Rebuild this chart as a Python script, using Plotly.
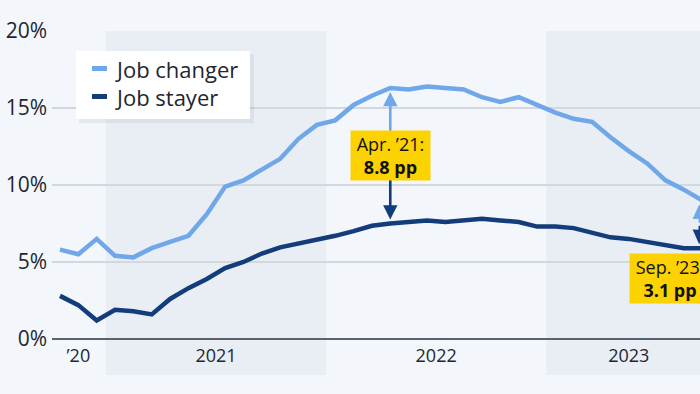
import pandas as pd
import plotly.graph_objects as go

# ---------------- data ----------------
months = [d.strftime("%b %Y") for d in pd.date_range("2020-10-01", "2023-09-01", freq="MS")]
job_changer = [5.8, 5.5, 6.5, 5.4, 5.3, 5.9, 6.3, 6.7, 8.1, 9.9,
               10.3, 11.0, 11.7, 13.0, 13.9, 14.2, 15.2, 15.8, 16.3, 16.2,
               16.4, 16.3, 16.2, 15.7, 15.4, 15.7, 15.2, 14.7, 14.3, 14.1,
               13.1, 12.2, 11.4, 10.3, 9.7, 9.0]
job_stayer = [2.8, 2.2, 1.2, 1.9, 1.8, 1.6, 2.6, 3.3, 3.9, 4.6,
              5.0, 5.55, 5.95, 6.2, 6.4, 6.7, 7.0, 7.35, 7.5, 7.6,
              7.7, 7.6, 7.7, 7.8, 7.7, 7.6, 7.3, 7.3, 7.2, 6.9,
              6.6, 6.5, 6.3, 6.1, 5.9, 5.9]
year_labels = ["\u201920", "2021", "2022", "2023"]
year_keys = ["2020", "2021", "2022", "2023"]
y_ticks = [0, 5, 10, 15, 20]
callouts = [("Apr 2022", "Apr. \u201921:", "8.8 pp"), ("Sep 2023", "Sep. \u201923:", "3.1 pp")]

# ---------------- style ----------------
C_CHANGER = "#6fa7e9"
C_STAYER = "#133c7b"
BG = "#f3f6fa"
BAND = "#e9eef5"
YELLOW = "#fcd200"
TXT = "#1f2630"
FONT = "Open Sans"
NB = "\u00a0"

x = list(range(len(months)))
X0, X1 = -0.436, 34.88  # visible window (chart is cropped on the right)

fig = go.Figure()
fig.add_trace(go.Scatter(x=x, y=job_changer, mode="lines", name="Job changer",
                         line=dict(color=C_CHANGER, width=4.5), showlegend=False, hoverinfo="skip"))
fig.add_trace(go.Scatter(x=x, y=job_stayer, mode="lines", name="Job stayer",
                         line=dict(color=C_STAYER, width=4.5), showlegend=False, hoverinfo="skip"))

# year spans
spans = {}
for i, m in enumerate(months):
    yr = m[-4:]
    spans.setdefault(yr, [i, i])
    spans[yr][1] = i
tickvals = [(spans[k][0] + spans[k][1]) / 2 for k in year_keys]

shapes = []
for k_i, k in enumerate(year_keys):
    if k_i % 2 == 1:
        shapes.append(dict(type="rect", xref="x", yref="paper",
                           x0=spans[k][0] - 0.5, x1=spans[k][1] + 0.5,
                           y0=-0.117, y1=1, fillcolor=BAND, line_width=0, layer="below"))

# legend (custom)
W, H = 648, 308
def px(xp):
    return (xp - 52) / W
def py(yp):
    return (339 - yp) / H
shapes.append(dict(type="rect", xref="paper", yref="paper", x0=px(79), x1=px(254),
                   y0=py(123), y1=py(54), fillcolor="rgba(40,60,90,0.07)", line_width=0))
shapes.append(dict(type="rect", xref="paper", yref="paper", x0=px(76), x1=px(250),
                   y0=py(119), y1=py(51), fillcolor="white", line_width=0))
shapes.append(dict(type="rect", xref="paper", yref="paper", x0=px(92), x1=px(107),
                   y0=py(71), y1=py(66), fillcolor=C_CHANGER, line_width=0))
shapes.append(dict(type="rect", xref="paper", yref="paper", x0=px(92), x1=px(107),
                   y0=py(99), y1=py(94), fillcolor=C_STAYER, line_width=0))

annotations = [
    dict(xref="paper", yref="paper", x=px(113), y=py(68.5), xanchor="left", yanchor="middle",
         text="Job changer", showarrow=False, font=dict(size=22, color=TXT, family=FONT)),
    dict(xref="paper", yref="paper", x=px(113), y=py(96.5), xanchor="left", yanchor="middle",
         text="Job stayer", showarrow=False, font=dict(size=22, color=TXT, family=FONT)),
]

def xpaper(v):
    return (v - X0) / (X1 - X0)

for ci, (mon, l1, l2) in enumerate(callouts):
    i = months.index(mon)
    top, bot = job_changer[i], job_stayer[i]
    mid = (top + bot) / 2
    xp = xpaper(i)
    for tip, col in ((top, C_CHANGER), (bot, C_STAYER)):
        annotations.append(dict(xref="paper", yref="y", x=xp, y=tip, axref="pixel", ayref="y",
                                ax=0, ay=mid, text="", showarrow=True, arrowhead=2,
                                arrowsize=1.1, arrowwidth=2.6, arrowcolor=col, standoff=4))
    label = f"{NB}{l1}{NB}<br><b>{l2}</b>"
    if ci == 0:
        annotations.append(dict(xref="paper", yref="y", x=xp, y=mid, xanchor="center", yanchor="middle",
                                text=label, showarrow=False, bgcolor=YELLOW,
                                borderpad=1, font=dict(size=18, color="#111", family=FONT)))
    else:
        annotations.append(dict(xref="paper", yref="y", x=xpaper(spans[mon[-4:]][1] + 0.5), y=bot - 2.0,
                                xanchor="right", yanchor="middle",
                                text=label, showarrow=False, bgcolor=YELLOW,
                                borderpad=1, font=dict(size=18, color="#111", family=FONT)))

fig.update_layout(
    width=700, height=394,
    margin=dict(l=52, r=0, t=31, b=55),
    paper_bgcolor=BG, plot_bgcolor="rgba(0,0,0,0)",
    font=dict(family=FONT, color=TXT),
    shapes=shapes, annotations=annotations,
    hovermode=False,
    xaxis=dict(range=[X0, X1], tickvals=tickvals, ticktext=year_labels, showgrid=False,
               zeroline=False, showline=False, tickfont=dict(size=18, color=TXT), ticks="",
               ticklabelstandoff=4, fixedrange=True),
    yaxis=dict(range=[0, 20], tickvals=y_ticks, ticktext=[f"{v}%" for v in y_ticks],
               showgrid=True, gridcolor="#d3d8de", gridwidth=1.5, zeroline=True,
               zerolinecolor="#59626d", zerolinewidth=2, tickfont=dict(size=21, color=TXT),
               ticks="", showline=False, ticklabelstandoff=4, fixedrange=True),
)

fig.write_html("out.html", config={"displayModeBar": False},
               post_script="document.body.style.margin='0';document.body.style.background='%s';" % BG)
